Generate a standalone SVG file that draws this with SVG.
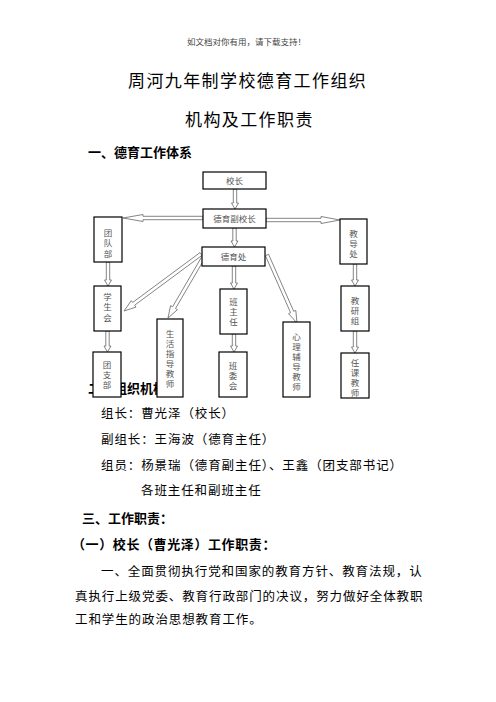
<svg xmlns="http://www.w3.org/2000/svg" width="496" height="702" viewBox="0 0 496 702">
<style>
text{font-family:"Noto Sans CJK SC","Liberation Sans",sans-serif;}
.hdr{font-size:8.5px;fill:#444;}
.title{font-size:17px;letter-spacing:1.4px;fill:#000;}
.h{font-size:13px;font-weight:bold;fill:#000;}
.h2{letter-spacing:0.6px;}
.body{font-size:12.5px;letter-spacing:0.9px;fill:#000;}
.box rect{fill:#fff;stroke:#000;stroke-width:1.2;}
.lbl{font-size:8.5px;fill:#555;text-anchor:middle;}
.vl{font-size:8.5px;fill:#555;text-anchor:middle;}
.arr polygon{fill:#fff;stroke:#666;stroke-width:0.8;stroke-linejoin:miter;}
</style>
<rect width="496" height="702" fill="#fff"/>
<text class="hdr" x="187" y="45">如文档对你有用，请下载支持！</text>
<text class="title" x="128" y="87">周河九年制学校德育工作组织</text>
<text class="title" x="185" y="126">机构及工作职责</text>
<text class="h" x="88" y="157">一、德育工作体系</text>
<text class="h" x="88" y="393">二、组织机构</text>

<g id="connectors" class="arr">
<polygon points="233.3,189 233.3,203 231.5,203 235,209 238.5,203 236.7,203 236.7,189"/>
<polygon points="232.8,228 232.8,241 231,241 234.5,247 238,241 236.2,241 236.2,228"/>
<polygon points="232.3,266 232.3,283 230.5,283 234,289 237.5,283 235.7,283 235.7,266"/>
<polygon points="232.3,334 232.3,346 230.5,346 234,352 237.5,346 235.7,346 235.7,334"/>
<polygon points="106.3,262 106.3,280 104.5,280 108,286 111.5,280 109.7,280 109.7,262"/>
<polygon points="105.8,331 105.8,346 104,346 107.5,352 111,346 109.2,346 109.2,331"/>
<polygon points="353.3,264 353.3,280 351.5,280 355,286 358.5,280 356.7,280 356.7,264"/>
<polygon points="353.3,331 353.3,347 351.5,347 355,353 358.5,347 356.7,347 356.7,331"/>
<polygon points="203,216.3 143,216.3 143,214.5 123,218 143,221.5 143,219.7 203,219.7"/>
<polygon points="266,218.3 321,218.3 321,216.5 340,220 321,223.5 321,221.7 266,221.7"/>
<polygon points="199.99,252.63 132.63,302.49 131.26,300.65 124,311 136.02,307.07 134.65,305.23 202.01,255.37"/>
<polygon points="201.53,257.14 172.58,306.77 170.59,305.61 168,318 177.51,309.65 175.52,308.49 204.47,258.86"/>
<polygon points="265.44,255.69 290.6,312.71 288.5,313.63 297,323 295.82,310.41 293.72,311.33 268.56,254.31"/>
</g>

<g id="n-xiaozhang" class="box"><rect x="203" y="172" width="63" height="17"/><text class="lbl" x="234.5" y="184">校长</text></g>
<g id="n-fuxiaozhang" class="box"><rect x="203" y="209" width="63" height="19"/><text class="lbl" x="234.5" y="222">德育副校长</text></g>
<g id="n-deyuchu" class="box"><rect x="202" y="247" width="63" height="19"/><text class="lbl" x="233.5" y="260">德育处</text></g>
<g id="n-tuanduibu" class="box"><rect x="94" y="217" width="28" height="45"/><text class="vl"><tspan x="108" y="235.5">团</tspan><tspan x="108" y="246">队</tspan><tspan x="108" y="256.5">部</tspan></text></g>
<g id="n-jiaodaochu" class="box"><rect x="340" y="219" width="27" height="45"/><text class="vl"><tspan x="353.5" y="236.5">教</tspan><tspan x="353.5" y="246.5">导</tspan><tspan x="353.5" y="256.5">处</tspan></text></g>
<g id="n-xueshenghui" class="box"><rect x="94" y="286" width="27" height="45"/><text class="vl"><tspan x="107.5" y="299.5">学</tspan><tspan x="107.5" y="310">生</tspan><tspan x="107.5" y="320.5">会</tspan></text></g>
<g id="n-tuanzhibu" class="box"><rect x="93" y="352" width="28" height="45"/><text class="vl"><tspan x="107" y="367.5">团</tspan><tspan x="107" y="377.5">支</tspan><tspan x="107" y="387.5">部</tspan></text></g>
<g id="n-shenghuo" class="box"><rect x="157" y="319" width="26" height="78"/><text class="vl"><tspan x="170" y="336.5">生</tspan><tspan x="170" y="346.5">活</tspan><tspan x="170" y="356.5">指</tspan><tspan x="170" y="366.5">导</tspan><tspan x="170" y="376.5">教</tspan><tspan x="170" y="386.5">师</tspan></text></g>
<g id="n-banzhuren" class="box"><rect x="220" y="289" width="27" height="45"/><text class="vl"><tspan x="233.5" y="304.5">班</tspan><tspan x="233.5" y="314.5">主</tspan><tspan x="233.5" y="324.5">任</tspan></text></g>
<g id="n-banweihui" class="box"><rect x="219" y="352" width="28" height="45"/><text class="vl"><tspan x="233" y="369">班</tspan><tspan x="233" y="379">委</tspan><tspan x="233" y="389">会</tspan></text></g>
<g id="n-xinli" class="box"><rect x="283" y="322" width="27" height="75"/><text class="vl"><tspan x="296.5" y="340">心</tspan><tspan x="296.5" y="350">理</tspan><tspan x="296.5" y="360">辅</tspan><tspan x="296.5" y="370">导</tspan><tspan x="296.5" y="380">教</tspan><tspan x="296.5" y="390">师</tspan></text></g>
<g id="n-jiaoyanzu" class="box"><rect x="341" y="286" width="28" height="45"/><text class="vl"><tspan x="355" y="303.5">教</tspan><tspan x="355" y="313.5">研</tspan><tspan x="355" y="323.5">组</tspan></text></g>
<g id="n-renke" class="box"><rect x="341" y="353" width="28" height="45"/><text class="vl"><tspan x="355" y="365.5">任</tspan><tspan x="355" y="375.5">课</tspan><tspan x="355" y="385.5">教</tspan><tspan x="355" y="395.5">师</tspan></text></g>

<text class="body" x="101" y="418">组长：曹光泽（校长）</text>
<text class="body" x="101" y="444">副组长：王海波（德育主任）</text>
<text class="body" x="101" y="470">组员：杨景瑞（德育副主任）、王鑫（团支部书记）</text>
<text class="body" x="141" y="495">各班主任和副班主任</text>
<text class="h" x="82" y="523">三、工作职责：</text>
<text class="h h2" x="72" y="549">（一）校长（曹光泽）工作职责：</text>
<text class="body" x="101" y="576">一、全面贯彻执行党和国家的教育方针、教育法规，认</text>
<text class="body" x="75" y="601">真执行上级党委、教育行政部门的决议，努力做好全体教职</text>
<text class="body" x="75" y="624">工和学生的政治思想教育工作。</text>
</svg>
